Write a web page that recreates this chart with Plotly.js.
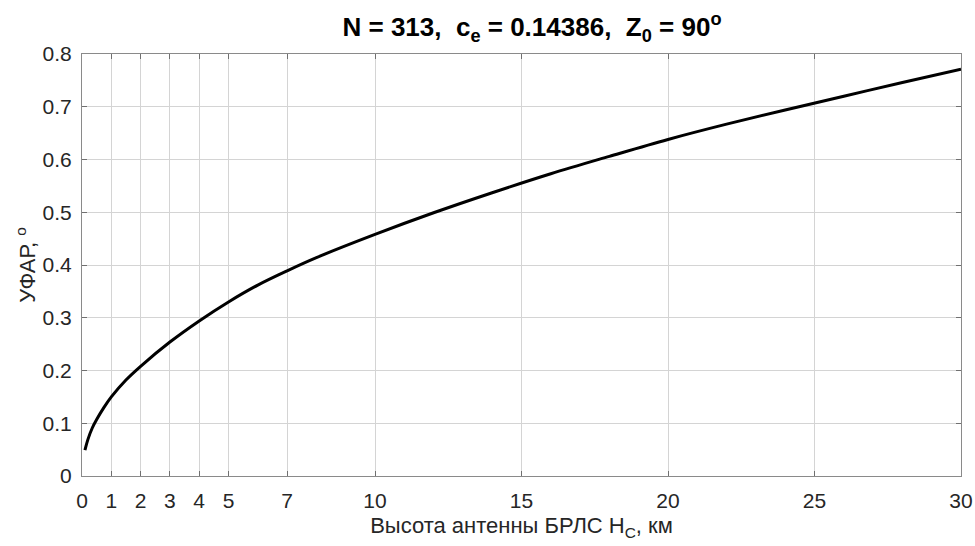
<!DOCTYPE html>
<html>
<head>
<meta charset="utf-8">
<script src="https://cdn.plot.ly/plotly-3.0.1.min.js"></script>
<style>html,body{margin:0;padding:0;background:#fff;}#chart{width:975px;height:546px;}</style>
</head>
<body>
<div id="chart"></div>
<script>
// Antenna height H_C, km
const heightKm = [0.1, 0.2, 0.35, 0.5, 0.75, 1, 1.5, 2, 3, 4, 5, 6, 7, 8, 10, 12, 14, 16, 18, 20, 22, 24, 26, 28, 30];
// УФАР, degrees
const ufarDeg  = [0.049, 0.069, 0.091, 0.107, 0.130, 0.150, 0.182, 0.208, 0.254, 0.294, 0.330, 0.362, 0.389, 0.414, 0.458, 0.499, 0.537, 0.573, 0.606, 0.638, 0.667, 0.694, 0.720, 0.746, 0.771];
const xTicks = [0, 1, 2, 3, 4, 5, 7, 10, 15, 20, 25, 30];
const yTicks = [0, 0.1, 0.2, 0.3, 0.4, 0.5, 0.6, 0.7, 0.8];

const font = 'Liberation Sans, Arial, sans-serif';
const axisCommon = {
  showgrid: true, gridcolor: '#d4d4d4', gridwidth: 1,
  showline: true, linecolor: '#8a8a8a', linewidth: 1, mirror: 'ticks',
  ticks: 'inside', ticklen: 5, tickcolor: '#707070',
  tickfont: {family: font, size: 21, color: '#262626'},
  zeroline: false, fixedrange: true
};
const trace = {
  x: heightKm, y: ufarDeg, type: 'scatter', mode: 'lines',
  line: {color: '#000000', width: 3, shape: 'spline', smoothing: 1},
  hoverinfo: 'skip'
};
const layout = {
  width: 975, height: 546,
  margin: {l: 82, r: 14, t: 54, b: 70},
  paper_bgcolor: '#ffffff', plot_bgcolor: '#ffffff',
  showlegend: false,
  title: {
    text: '<b>N = 313,  c<sub>e</sub> = 0.14386,  Z<sub>0</sub> = 90<sup>o</sup></b>',
    font: {family: font, size: 26, color: '#000000'},
    x: 532 / 975, xanchor: 'center', xref: 'container',
    y: 1 - 27 / 546, yanchor: 'middle', yref: 'container'
  },
  xaxis: Object.assign({}, axisCommon, {
    range: [0, 30], tickvals: xTicks, ticktext: xTicks.map(String),
    ticklabelstandoff: 6,
    title: {text: 'Высота антенны БРЛС H<sub>C</sub>, км', font: {family: font, size: 22, color: '#262626'}, standoff: 6}
  }),
  yaxis: Object.assign({}, axisCommon, {
    range: [0, 0.8], tickvals: yTicks, ticktext: yTicks.map(v => v === 0 ? '0' : v.toFixed(1)),
    ticklabelstandoff: 5,
    title: {text: 'УФАР, <sup>o</sup>', font: {family: font, size: 22, color: '#262626'}, standoff: 0}
  })
};
Plotly.newPlot('chart', [trace], layout, {staticPlot: true, displayModeBar: false});
</script>
</body>
</html>
